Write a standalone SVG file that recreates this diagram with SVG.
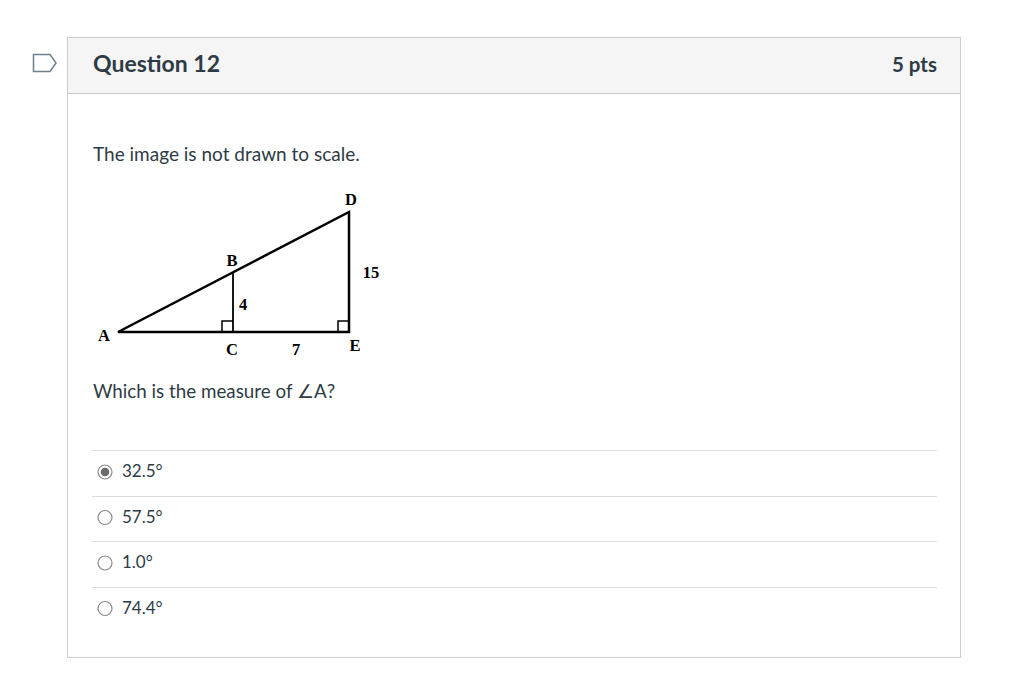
<svg xmlns="http://www.w3.org/2000/svg" width="1015" height="685" viewBox="0 0 1015 685">
<style>
.ui{font-family:Lato,"Liberation Sans",sans-serif;fill:#2d3b45}
.fig{font-family:"Liberation Serif",serif;font-weight:bold;font-size:16.5px;fill:#000}
.sep{stroke:#dddddd;stroke-width:1}
.radio{fill:#fff;stroke:#8a8a8a;stroke-width:1.2}
.ln{stroke:#000;stroke-width:2.5;fill:none}
</style>
<rect width="1015" height="685" fill="#fff"/>
<g id="marker-icon"><path d="M33.5 54.5 H50 L56 63 L50 71.5 H33.5 Z" fill="#fff" stroke="#6f7f8c" stroke-width="1.5"/></g>
<g id="card">
<rect x="67.5" y="37.5" width="893" height="620" fill="#fff" stroke="#c7cdd1"/>
<rect x="68" y="38" width="892" height="55" fill="#f5f5f5"/>
<line x1="67.5" y1="93.5" x2="960.5" y2="93.5" stroke="#c7cdd1"/>
<text class="ui" x="93" y="72" font-size="23" font-weight="bold">Question 12</text>
<text class="ui" x="937" y="72" font-size="20.5" font-weight="bold" text-anchor="end">5 pts</text>
<text class="ui" x="93" y="161" font-size="19">The image is not drawn to scale.</text>
<text class="ui" x="93" y="398" font-size="18.8">Which is the measure of ∠A?</text>
</g>
<g id="figure">
<path class="ln" d="M118 332 L349 212 L349 332 Z" stroke-linejoin="miter"/>
<line x1="233" y1="273" x2="233" y2="332" stroke="#000" stroke-width="1.8"/>
<path d="M222 332 V321 H233" fill="none" stroke="#000" stroke-width="1.5"/>
<path d="M338 332 V321 H349" fill="none" stroke="#000" stroke-width="1.5"/>
<text class="fig" x="104" y="341" text-anchor="middle">A</text>
<text class="fig" x="232" y="266" text-anchor="middle">B</text>
<text class="fig" x="232" y="355" text-anchor="middle">C</text>
<text class="fig" x="351" y="205" text-anchor="middle">D</text>
<text class="fig" x="355" y="351" text-anchor="middle">E</text>
<text class="fig" x="371" y="278" text-anchor="middle">15</text>
<text class="fig" x="243" y="310" text-anchor="middle">4</text>
<text class="fig" x="296" y="355" text-anchor="middle">7</text>
</g>
<g id="options">
<line class="sep" x1="92" y1="450.5" x2="937" y2="450.5"/>
<line class="sep" x1="92" y1="496.5" x2="937" y2="496.5"/>
<line class="sep" x1="92" y1="541.5" x2="937" y2="541.5"/>
<line class="sep" x1="92" y1="587.5" x2="937" y2="587.5"/>
<circle class="radio" cx="105" cy="472" r="7"/>
<circle cx="105" cy="472" r="4.3" fill="#6b6b6b"/>
<circle class="radio" cx="105" cy="517.5" r="7"/>
<circle class="radio" cx="105" cy="563" r="7"/>
<circle class="radio" cx="105" cy="608.5" r="7"/>
<text class="ui" x="122" y="477" font-size="17">32.5°</text>
<text class="ui" x="122" y="522.5" font-size="17">57.5°</text>
<text class="ui" x="122" y="568" font-size="17">1.0°</text>
<text class="ui" x="122" y="613.5" font-size="17">74.4°</text>
</g>
</svg>
